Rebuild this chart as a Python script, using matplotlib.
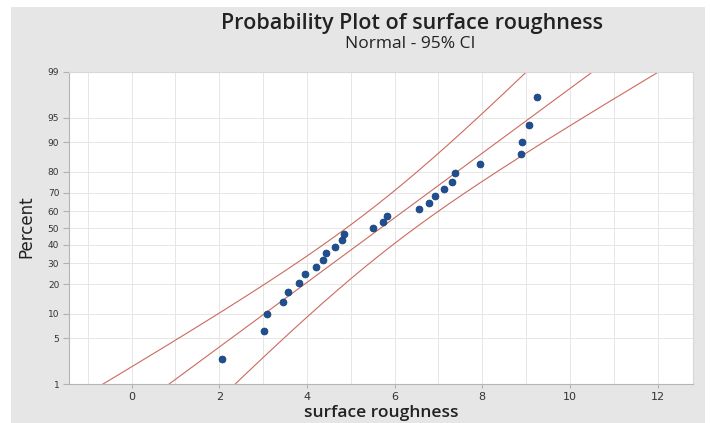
import numpy as np
import matplotlib
matplotlib.use("Agg")
import matplotlib.pyplot as plt
from matplotlib import font_manager
from matplotlib.patches import Rectangle
from statistics import NormalDist

roughness = [2.07, 3.03, 3.09, 3.45, 3.57, 3.81, 3.95, 4.20, 4.37, 4.43,
             4.65, 4.81, 4.84, 5.50, 5.73, 5.82, 6.55, 6.79, 6.93, 7.13,
             7.32, 7.38, 7.95, 8.88, 8.90, 9.07, 9.26]
percent_ticks = [1, 5, 10, 20, 30, 40, 50, 60, 70, 80, 90, 95, 99]
x_ticks = [0, 2, 4, 6, 8, 10, 12]

nd = NormalDist()


def z_of(p):
    """Percent -> standard normal quantile."""
    return nd.inv_cdf(p / 100.0)


x = np.sort(np.array(roughness))
n = len(x)
ranks = (np.arange(1, n + 1) - 0.3) / (n + 0.4) * 100  # median ranks
z_pts = np.array([z_of(p) for p in ranks])

mu = x.mean()
sigma = x.std(ddof=1)

# fitted line and 95% CI on percentiles
z_line = np.linspace(z_of(0.5), z_of(99.5), 300)
x_fit = mu + z_line * sigma
half = 1.96 * sigma * np.sqrt(1.0 / n + z_line ** 2 / (2.0 * n))

installed = {f.name for f in font_manager.fontManager.ttflist}
narrow = "Liberation Sans Narrow" if "Liberation Sans Narrow" in installed else "DejaVu Sans"

fig = plt.figure(figsize=(7.1, 4.23), dpi=100)
fig.patch.set_facecolor("white")
bg = Rectangle((11 / 710, 0), (705 - 11) / 710, 1 - 7 / 423,
               transform=fig.transFigure, facecolor="#e6e6e6",
               edgecolor="none", zorder=-10)
fig.patches.append(bg)

ax = fig.add_axes([69 / 710, 1 - 384 / 423, (693 - 69) / 710, (384 - 72) / 423])
ax.set_zorder(1)
ax.set_facecolor("white")

line_col = "#cc6a5c"
ax.plot(x_fit, z_line, color=line_col, lw=0.8)
ax.plot(x_fit - half, z_line, color=line_col, lw=0.8)
ax.plot(x_fit + half, z_line, color=line_col, lw=0.8)
ax.plot(x, z_pts, "o", color="#1d4f91", ms=5, mec="#163d73", mew=0.5, zorder=3)

ax.set_xlim(-1.43, 12.81)
ax.set_ylim(z_of(1), z_of(99))

ax.set_xticks(x_ticks)
ax.set_xticks(np.arange(-1, 13, 1), minor=True)
ax.set_yticks([z_of(p) for p in percent_ticks])
ax.set_yticklabels([str(p) for p in percent_ticks])

ax.grid(True, which="both", axis="x", color="#e6e6e6", lw=0.7)
ax.grid(True, which="major", axis="y", color="#e6e6e6", lw=0.7)
ax.set_axisbelow(True)

ax.tick_params(axis="x", which="major", labelsize=8, length=3, color="#b0b0b0",
               labelcolor="#333333", pad=2.5)
ax.tick_params(axis="x", which="minor", length=0)
ax.tick_params(axis="y", labelsize=6.5, length=4, color="#b0b0b0",
               labelcolor="#333333", pad=3)

for side in ["top", "right"]:
    ax.spines[side].set_color("#d8d8d8")
for side in ["left", "bottom"]:
    ax.spines[side].set_color("#b5b5b5")
for sp in ax.spines.values():
    sp.set_linewidth(0.8)

fig.text(412 / 710, 1 - 24 / 423, "Probability Plot of surface roughness",
         ha="center", va="center", fontsize=15.5, fontweight="semibold",
         family="Open Sans", color="#222222")
fig.text(410 / 710, 1 - 44 / 423, "Normal - 95% CI", ha="center", va="center",
         fontsize=12.5, family="Open Sans", color="#222222")
fig.text(381 / 710, 1 - 413 / 423, "surface roughness", ha="center",
         va="center", fontsize=12.5, fontweight="semibold", family="Open Sans",
         color="#222222")
fig.text(26 / 710, 1 - 227 / 423, "Percent", ha="center", va="center",
         rotation=90, fontsize=12, family=narrow, color="#222222")

fig.savefig("out.png", dpi=100, facecolor=fig.get_facecolor())
